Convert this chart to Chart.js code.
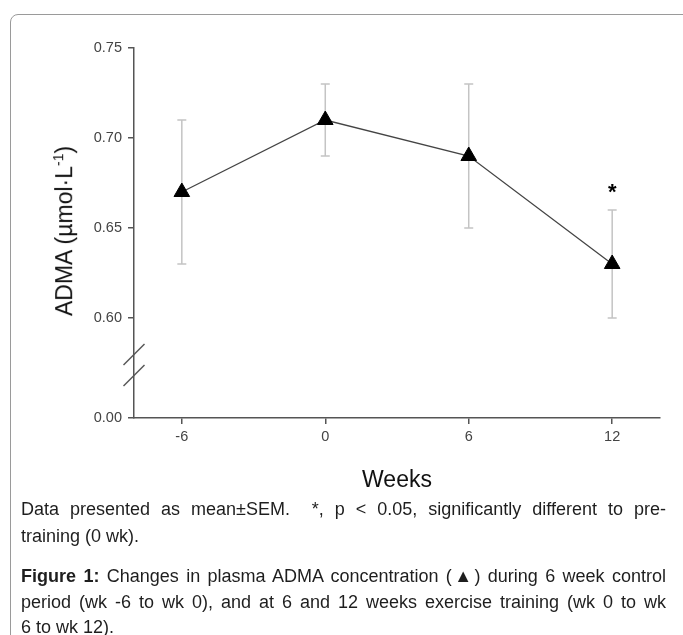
<!DOCTYPE html>
<html>
<head>
<meta charset="utf-8">
<script src="https://cdn.jsdelivr.net/npm/chart.js@4"></script>
<style>
body { margin: 0; background: #fff; font-family: "Liberation Sans", Arial, sans-serif; }
#page { position: relative; width: 683px; height: 635px; overflow: hidden; }
#frame { position: absolute; left: 10px; top: 14px; width: 720px; height: 700px; border: 1px solid #9a9a9a; border-radius: 8px; }
#chartBox { position: absolute; left: 0; top: 0; width: 683px; height: 500px; }
#ytitle { position: absolute; left: 64px; top: 231px; transform: translate(-50%, -50%) rotate(-90deg); font-size: 23px; white-space: nowrap; color: #111; }
#ytitle sup { font-size: 14px; }
.cap { position: absolute; left: 21px; width: 645px; font-size: 18px; line-height: 26px; color: #1e1e1e; white-space: nowrap; }
.j { text-align: justify; text-align-last: justify; }
</style>
</head>
<body>
<div id="page">
  <div id="frame"></div>
  <div id="chartBox"><canvas id="chartAdma" width="683" height="500"></canvas></div>
  <div id="ytitle">ADMA (µmol·L<sup>-1</sup>)</div>
  <div class="cap j" style="top:496px">Data presented as mean±SEM. &nbsp;*, p &lt; 0.05, significantly different to pre-</div>
  <div class="cap" style="top:523px">training (0 wk).</div>
  <div class="cap j" style="top:563px"><b>Figure 1:</b> Changes in plasma ADMA concentration (▲) during 6 week control</div>
  <div class="cap j" style="top:589px">period (wk -6 to wk 0), and at 6 and 12 weeks exercise training (wk 0 to wk</div>
  <div class="cap" style="top:614px">6 to wk 12).</div>
</div>
<script>
// ===== DONNEES =====
const semaines = [-6, 0, 6, 12]
const admaMoyenne = [0.67, 0.71, 0.69, 0.63]
const admaSem = [0.04, 0.02, 0.04, 0.03]
const marquesSig = ['', '', '', '*']
const ticksX = [-6, 0, 6, 12]
const ticksY = [0.60, 0.65, 0.70, 0.75]
const labelCoupure = '0.00'

// bas de l'axe Y (coupure 0.60 -> 0.00)
const yMin = 0.60 - 0.05 * 100 / 90
const gris = '#555'

// barres d'erreur + asterisque
const barresErreur = {
    id: 'barresErreur',
    beforeDatasetsDraw(chart) {
        const { ctx, scales: { x, y } } = chart
        ctx.save()
        ctx.strokeStyle = '#c4c4c4'
        ctx.lineWidth = 1.5
        semaines.forEach((s, i) => {
            const px = x.getPixelForValue(s)
            const haut = y.getPixelForValue(admaMoyenne[i] + admaSem[i])
            const bas = y.getPixelForValue(admaMoyenne[i] - admaSem[i])
            ctx.beginPath()
            ctx.moveTo(px, haut); ctx.lineTo(px, bas)
            ctx.moveTo(px - 4.5, haut); ctx.lineTo(px + 4.5, haut)
            ctx.moveTo(px - 4.5, bas); ctx.lineTo(px + 4.5, bas)
            ctx.stroke()
        })
        ctx.restore()
    },
    afterDatasetsDraw(chart) {
        const { ctx, scales: { x, y } } = chart
        ctx.save()
        ctx.fillStyle = '#000'
        ctx.font = 'bold 22px "Liberation Sans", Arial'
        ctx.textAlign = 'center'
        ctx.textBaseline = 'middle'
        marquesSig.forEach((m, i) => {
            if(!m) return
            const px = x.getPixelForValue(semaines[i])
            const py = y.getPixelForValue(admaMoyenne[i] + admaSem[i])
            ctx.fillText(m, px, py - 17)
        })
        ctx.restore()
    }
}

// coupure de l'axe Y
const coupureAxe = {
    id: 'coupureAxe',
    afterDraw(chart) {
        const { ctx, scales: { y } } = chart
        const x0 = y.right
        const p60 = y.getPixelForValue(0.60)
        const ecart = y.bottom - p60
        ctx.save()
        ctx.strokeStyle = gris
        ctx.lineWidth = 1.5
        ;[0.365, 0.575].forEach(f => {
            const cy = p60 + ecart * f
            ctx.beginPath()
            ctx.moveTo(x0 - 10.5, cy + 10.5)
            ctx.lineTo(x0 + 10.5, cy - 10.5)
            ctx.stroke()
        })
        ctx.restore()
    }
}

new Chart(document.getElementById('chartAdma'), {
    type: 'line',
    data: {
        datasets: [{
            data: semaines.map((s, i) => ({ x: s, y: admaMoyenne[i] })),
            borderColor: '#444',
            borderWidth: 1.3,
            pointStyle: 'triangle',
            pointRadius: 9,
            pointBackgroundColor: '#000',
            pointBorderColor: '#000',
            pointBorderWidth: 1,
            tension: 0,
            clip: false
        }]
    },
    options: {
        responsive: false,
        animation: false,
        layout: { padding: { top: 48, right: 23, left: 0, bottom: 0 } },
        plugins: { legend: { display: false }, tooltip: { enabled: false } },
        scales: {
            x: {
                type: 'linear',
                min: -8,
                max: 14,
                afterBuildTicks: s => { s.ticks = ticksX.map(v => ({ value: v })) },
                afterFit: s => { s.height = 82 },
                grid: { drawOnChartArea: false, tickLength: 6, color: gris, lineWidth: 1.5 },
                border: { color: gris, width: 1.5 },
                ticks: { font: { size: 14.5, family: '"Liberation Sans", Arial' }, color: '#444', padding: 4 },
                title: { display: true, text: 'Weeks', font: { size: 23, family: '"Liberation Sans", Arial' }, color: '#111', padding: { top: 8, bottom: 6 } }
            },
            y: {
                type: 'linear',
                min: yMin,
                max: 0.75,
                afterBuildTicks: s => { s.ticks = [yMin, ...ticksY].map(v => ({ value: v })) },
                afterFit: s => { s.width = 134 },
                grid: { drawOnChartArea: false, tickLength: 6, color: gris, lineWidth: 1.5 },
                border: { color: gris, width: 1.5 },
                ticks: {
                    font: { size: 14.5, family: '"Liberation Sans", Arial' },
                    color: '#444',
                    padding: 6,
                    callback: v => v < 0.599 ? labelCoupure : v.toFixed(2)
                }
            }
        }
    },
    plugins: [barresErreur, coupureAxe]
})
</script>
</body>
</html>
